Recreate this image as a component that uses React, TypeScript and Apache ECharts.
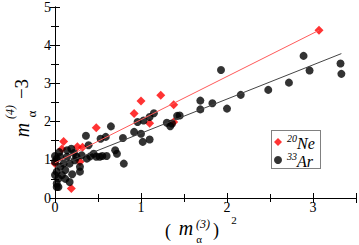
import React, { useEffect, useRef } from "react";
import * as echarts from "echarts";

const neLabel = "20Ne";
const arLabel = "33Ar";

const xTicks = [0, 1, 2, 3];
const yTicks = [0, 1, 2, 3, 4, 5];

const neData: number[][] = [
  [0.0, 0.9], [0.08, 1.28], [0.1, 1.48], [0.19, 0.25], [0.29, 0.95], [0.26, 1.34],
  [0.32, 1.33], [0.48, 1.84], [0.92, 2.21], [1.0, 2.54], [1.1, 1.96], [1.23, 2.69],
  [1.38, 2.44], [1.38, 1.99], [3.07, 4.39],
];

const arData: number[][] = [
  [1.45, 2.16], [1.69, 2.55], [1.69, 2.32], [1.83, 2.48], [1.93, 3.35], [2.0, 2.34],
  [2.16, 2.7], [2.48, 2.83], [2.72, 3.02], [2.89, 3.72], [2.96, 3.34], [3.32, 3.52], [3.33, 3.25],
  [0.65, 1.875], [0.96, 1.99], [1.03, 2.03], [1.1, 2.12], [1.15, 2.22], [0.92, 1.73], [1.0, 1.68],
  [0.79, 1.57], [1.02, 1.47], [1.1, 1.53], [1.3, 1.97], [1.34, 1.88], [1.36, 1.95], [1.42, 2.15],
  [0.7, 1.25], [0.72, 1.16], [0.8, 0.9], [0.59, 1.6], [0.36, 1.63], [0.53, 1.55],
  [0.19, 1.29], [0.39, 1.38], [0.45, 1.16], [0.52, 1.08], [0.31, 1.12], [0.25, 1.08], [0.14, 1.08],
  [0.06, 1.08], [0.02, 1.03], [0.29, 0.69], [0.17, 0.42], [0.02, 0.29], [0.04, 0.51], [0.06, 0.82],
  [0.12, 0.73], [0.17, 0.9], [0.23, 0.99], [0.02, 0.69], [0.1, 0.9], [0.14, 1.25], [0.29, 0.82],
  [0.37, 1.03], [0.48, 1.08], [0.04, 0.29], [0.02, 0.38], [0.0, 0.95], [0.0, 0.6],
  [0.41, 1.09], [0.55, 1.1], [0.6, 1.1], [0.08, 0.6], [0.2, 0.62], [0.12, 0.5], [0.0, 1.1],
  [0.05, 1.2], [0.22, 1.18],
];

const neFit: number[][] = [[0, 0.92], [3.07, 4.39]];
const arFit: number[][] = [[0, 0.8], [3.33, 3.78]];

const FONT = "Liberation Serif";

export default function App() {
  const ref = useRef<HTMLDivElement>(null);
  useEffect(() => {
    if (!ref.current) return;
    const chart = echarts.init(ref.current, undefined, { renderer: "svg" });
    const axisCommon = {
      type: "value" as const,
      splitLine: { show: false },
      axisLine: { show: true, lineStyle: { color: "#000", width: 1 } },
      axisTick: { show: true, inside: true, length: 5, lineStyle: { color: "#000" } },
      minorTick: { show: true, splitNumber: 2, length: 4, lineStyle: { color: "#000" } },
      minorSplitLine: { show: false },
    };
    const rich = {
      sup: { fontFamily: FONT, fontSize: 10, fontStyle: "italic", color: "#000", verticalAlign: "top", lineHeight: 18 },
      el: { fontFamily: FONT, fontSize: 16, fontStyle: "italic", color: "#000", verticalAlign: "bottom", lineHeight: 18 },
    };
    chart.setOption({
      animation: false,
      backgroundColor: "#fff",
      textStyle: { fontFamily: FONT },
      grid: { left: 55, right: 3, top: 6, bottom: 47, containLabel: false },
      xAxis: [
        {
          ...axisCommon, min: xTicks[0], max: 3.5, interval: 1, position: "bottom",
          axisLabel: { color: "#000", fontFamily: FONT, fontSize: 14, margin: 2, showMaxLabel: false },
        },
        {
          ...axisCommon, min: xTicks[0], max: 3.5, interval: 1, position: "top",
          axisLabel: { show: false },
        },
      ],
      yAxis: [
        {
          ...axisCommon, min: yTicks[0], max: yTicks[yTicks.length - 1], interval: 1, position: "left",
          axisLabel: { color: "#000", fontFamily: FONT, fontSize: 14, margin: 4 },
        },
        {
          ...axisCommon, min: yTicks[0], max: yTicks[yTicks.length - 1], interval: 1, position: "right",
          axisLabel: { show: false },
        },
      ],
      legend: {
        orient: "vertical",
        left: 274,
        top: 133,
        itemWidth: 8,
        itemHeight: 8,
        itemGap: 0,
        padding: 0,
        data: [neLabel, arLabel],
        formatter: (name: string) =>
          name === neLabel ? "{sup|20}{el|Ne}" : "{sup|33}{el|Ar}",
        textStyle: { rich },
      },
      graphic: [
        {
          type: "rect",
          shape: { x: 271.5, y: 130.5, width: 49, height: 38 },
          style: { fill: "none", stroke: "#000", lineWidth: 1, lineDash: [1, 1] },
          z: 100,
        },
        { type: "text", x: 22, y: 130, rotation: Math.PI / 2, style: { text: "m", font: `italic 20px ${FONT}`, fill: "#000", align: "center", verticalAlign: "middle" } },
        { type: "text", x: 10, y: 112, rotation: Math.PI / 2, style: { text: "(4)", font: `italic 12px ${FONT}`, fill: "#000", align: "center", verticalAlign: "middle" } },
        { type: "text", x: 31, y: 114, rotation: Math.PI / 2, style: { text: "α", font: `13px ${FONT}`, fill: "#000", align: "center", verticalAlign: "middle" } },
        { type: "text", x: 21, y: 89, rotation: Math.PI / 2, style: { text: "−3", font: `19px ${FONT}`, fill: "#000", align: "center", verticalAlign: "middle" } },
        { type: "text", x: 168, y: 231, style: { text: "(", font: `18px ${FONT}`, fill: "#000", align: "center", verticalAlign: "middle" } },
        { type: "text", x: 186, y: 228, style: { text: "m", font: `italic 20px ${FONT}`, fill: "#000", align: "center", verticalAlign: "middle" } },
        { type: "text", x: 203, y: 224, style: { text: "(3)", font: `italic 12px ${FONT}`, fill: "#000", align: "center", verticalAlign: "middle" } },
        { type: "text", x: 199, y: 239, style: { text: "α", font: `11px ${FONT}`, fill: "#000", align: "center", verticalAlign: "middle" } },
        { type: "text", x: 216, y: 230, style: { text: ")", font: `18px ${FONT}`, fill: "#000", align: "center", verticalAlign: "middle" } },
        { type: "text", x: 234, y: 220, style: { text: "2", font: `11px ${FONT}`, fill: "#000", align: "center", verticalAlign: "middle" } },
      ],
      series: [
        {
          name: neLabel, type: "scatter", data: neData, symbol: "diamond", symbolSize: 9,
          itemStyle: { color: "#ff0000" }, z: 2,
        },
        {
          name: arLabel, type: "scatter", data: arData, symbol: "circle", symbolSize: 8,
          itemStyle: { color: "#000" }, z: 3,
        },
        {
          name: "neFit", type: "line", data: neFit, showSymbol: false, symbol: "none",
          lineStyle: { color: "#ff5a5a", width: 1 }, z: 4,
        },
        {
          name: "arFit", type: "line", data: arFit, showSymbol: false, symbol: "none",
          lineStyle: { color: "#444", width: 1 }, z: 4,
        },
      ],
    });
    return () => chart.dispose();
  }, []);
  return (
    <div
      ref={ref}
      style={{ position: "fixed", left: 0, top: 0, width: 359, height: 245 }}
    />
  );
}
